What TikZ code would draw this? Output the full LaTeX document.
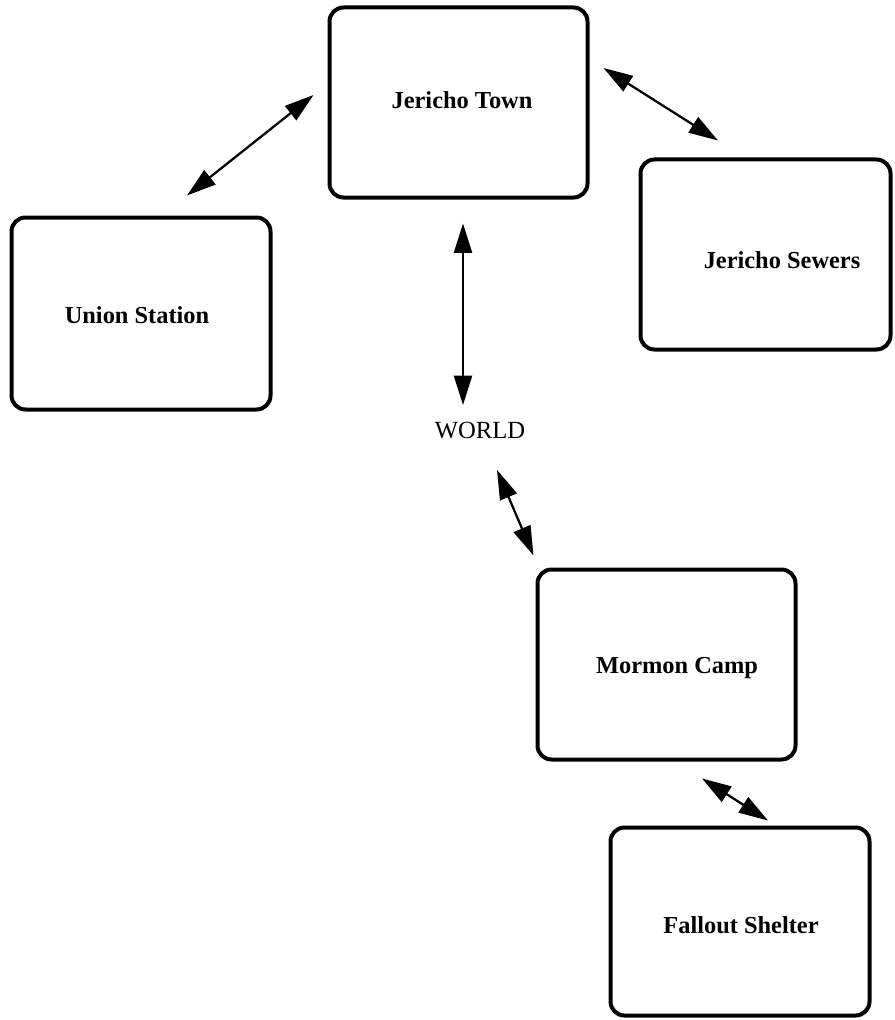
\documentclass[tikz,border=0pt]{standalone}
\usepackage{fontspec}
\setmainfont{Liberation Serif}
\usetikzlibrary{arrows.meta}
\begin{document}
\begin{tikzpicture}[x=0.75pt,y=-0.75pt,
  room/.style={draw=black,line width=3pt,rounded corners=10.5pt,fill=white,
    rectangle,inner sep=0pt},
  lbl/.style={font=\fontsize{18.3}{20}\selectfont\bfseries,text=black},
  conn/.style={line width=1.7pt,{Triangle[length=22pt,width=13.5pt]}-{Triangle[length=22pt,width=13.5pt]}}]
\useasboundingbox[fill=white] (0,0) rectangle (894,1020);
\node[room,minimum width=0.75*258pt,minimum height=0.75*190pt,
  label={[lbl,xshift=0.75*3.5pt,yshift=0.75*2.5pt]center:Jericho Town}] (jt) at (458.5,102.5) {};
\node[room,minimum width=0.75*259pt,minimum height=0.75*192pt,
  label={[lbl,xshift=-0.75*4pt,yshift=-0.75*1.5pt]center:Union Station}] (us) at (141,313.5) {};
\node[room,minimum width=0.75*250pt,minimum height=0.75*190pt,
  label={[lbl,xshift=0.75*16.5pt,yshift=-0.75*5.5pt]center:Jericho Sewers}] (js) at (765.5,254.5) {};
\node[room,minimum width=0.75*258pt,minimum height=0.75*190pt,
  label={[lbl,xshift=0.75*10.5pt,yshift=-0.75*3.5pt]center:Mormon Camp}] (mc) at (666.5,664.5) {};
\node[room,minimum width=0.75*259pt,minimum height=0.75*188pt,
  label={[lbl,xshift=0.75*1pt,yshift=-0.75*3.5pt]center:Fallout Shelter}] (fs) at (740,921.5) {};
\node[font=\fontsize{18.5}{20}\selectfont,inner sep=0pt] (world) at (480,431) {WORLD};
\draw[conn] ([shift={(-14,-7.5)}]jt.west) -- ([shift={(46,-20)}]us.north);
\draw[conn] ([shift={(14,-34.5)}]jt.east) -- ([shift={(-47.5,-17)}]js.north);
\draw[conn] ([shift={(4.5,24)}]jt.south) -- ([shift={(-17,-26)}]world.center);
\draw[conn] ([shift={(17,39)}]world.center) -- ([shift={(-2,-12)}]mc.north west);
\draw[conn] ([shift={(35.5,17)}]mc.south) -- ([shift={(28,-5)}]fs.north);
\end{tikzpicture}
\end{document}
